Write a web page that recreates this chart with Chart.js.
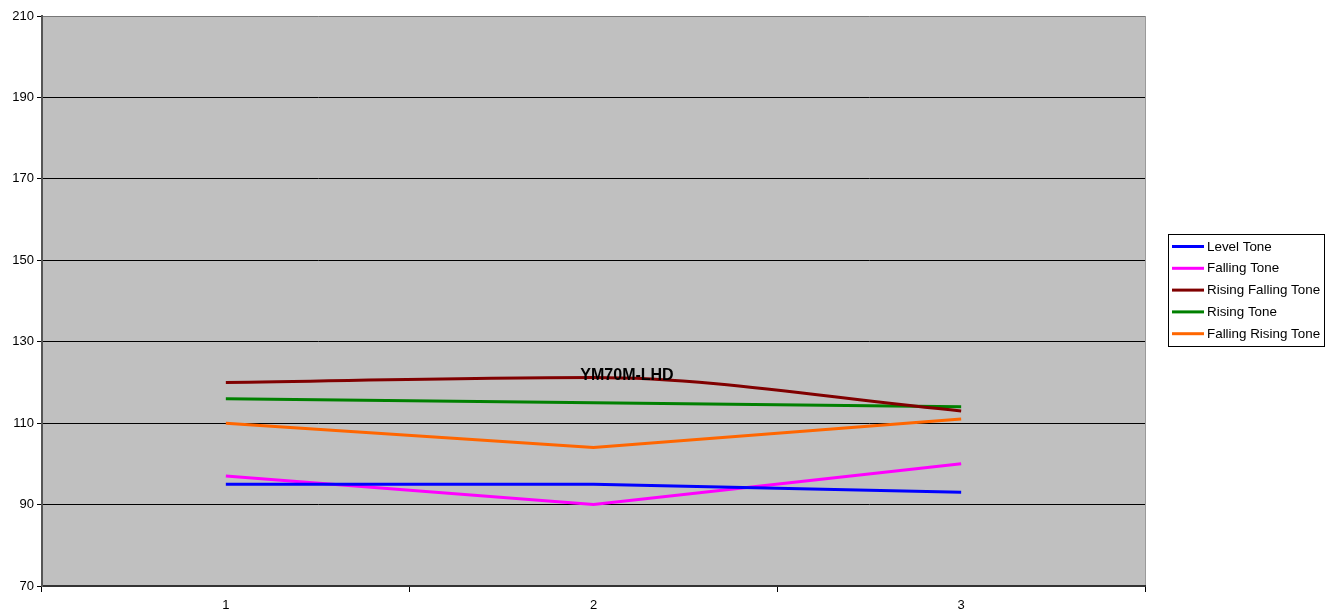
<!DOCTYPE html>
<html>
<head>
<meta charset="utf-8">
<script src="https://cdn.jsdelivr.net/npm/chart.js@4.4.0/dist/chart.umd.min.js"></script>
<style>
html,body{margin:0;padding:0;background:#fff;}
#wrap{width:1336px;height:612px;position:relative;}
</style>
</head>
<body>
<div id="wrap"><canvas id="c" width="1336" height="612"></canvas></div>
<script>
const categories = ['1', '2', '3'];
const levelTone = [95, 95, 93];
const fallingTone = [97, 90, 100];
const risingFallingTone = [120, 121.2, 113];
const risingTone = [116, 115, 114];
const fallingRisingTone = [110, 104, 111];
const seriesNames = ['Level Tone', 'Falling Tone', 'Rising Falling Tone', 'Rising Tone', 'Falling Rising Tone'];
const chartTitle = 'YM70M-LHD';
const yMin = 70, yMax = 210, yStep = 20;

const FONT = '"Liberation Sans", Arial, sans-serif';

const plotBg = {
  id: 'plotBg',
  beforeDraw(chart) {
    const {ctx, chartArea: a} = chart;
    ctx.save();
    ctx.fillStyle = '#C0C0C0';
    ctx.fillRect(a.left, a.top, a.right - a.left, a.bottom - a.top);
    ctx.strokeStyle = '#9a9a9a';
    ctx.lineWidth = 1;
    ctx.beginPath();
    ctx.moveTo(a.right + 0.5, a.top);
    ctx.lineTo(a.right + 0.5, a.bottom);
    ctx.stroke();
    ctx.restore();
  }
};

const overlay = {
  id: 'overlay',
  afterDraw(chart) {
    const {ctx} = chart;
    ctx.save();
    // title
    ctx.font = 'bold 16px ' + FONT;
    ctx.fillStyle = '#000';
    ctx.textAlign = 'center';
    ctx.textBaseline = 'middle';
    ctx.fillText(chartTitle, 627, 376);
    // legend
    const lx = 1168, ly = 234, lw = 156, lh = 112;
    ctx.fillStyle = '#fff';
    ctx.fillRect(lx, ly, lw, lh);
    ctx.strokeStyle = '#000';
    ctx.lineWidth = 1;
    ctx.strokeRect(lx + 0.5, ly + 0.5, lw, lh);
    ctx.font = '13.4px ' + FONT;
    ctx.textAlign = 'left';
    chart.data.datasets.forEach((ds, i) => {
      const y = 246.5 + i * 21.8;
      ctx.strokeStyle = ds.borderColor;
      ctx.lineWidth = 3;
      ctx.beginPath();
      ctx.moveTo(1172, y);
      ctx.lineTo(1204, y);
      ctx.stroke();
      ctx.fillStyle = '#000';
      ctx.fillText(ds.label, 1207, y + 0.5);
    });
    ctx.restore();
  }
};

function ds(label, data, color, smooth) {
  const o = {
    label, data, borderColor: color, backgroundColor: color,
    borderWidth: 3, pointRadius: 0, pointHoverRadius: 0, fill: false,
    tension: 0
  };
  if (smooth) { o.cubicInterpolationMode = 'monotone'; o.tension = 0.4; }
  return o;
}

new Chart(document.getElementById('c'), {
  type: 'line',
  data: {
    labels: categories,
    datasets: [
      ds(seriesNames[0], levelTone, '#0000FF'),
      ds(seriesNames[1], fallingTone, '#FF00FF'),
      ds(seriesNames[2], risingFallingTone, '#800000', true),
      ds(seriesNames[3], risingTone, '#008000'),
      ds(seriesNames[4], fallingRisingTone, '#FF6600')
    ]
  },
  options: {
    responsive: false,
    animation: false,
    events: [],
    layout: { padding: { top: 16, right: 191, left: 0, bottom: 0 } },
    plugins: { legend: { display: false }, title: { display: false }, tooltip: { enabled: false } },
    scales: {
      x: {
        type: 'category',
        offset: true,
        grid: { offset: true, drawOnChartArea: false, drawTicks: true, tickLength: 6, color: '#000', tickColor: '#000' },
        border: { color: '#333', width: 2 },
        ticks: { color: '#000', font: { family: FONT, size: 13 }, padding: 6 },
        afterFit(s) { s.height = 26; }
      },
      y: {
        min: yMin, max: yMax,
        ticks: { stepSize: yStep, color: '#000', font: { family: FONT, size: 13 }, padding: 3 },
        grid: {
          color: (c) => (c.tick && c.tick.value === yMax) ? '#777' : '#000',
          tickColor: '#000', lineWidth: 1, tickLength: 5
        },
        border: { color: '#555', width: 2 },
        afterFit(s) { s.width = 42; }
      }
    }
  },
  plugins: [plotBg, overlay]
});
</script>
</body>
</html>
